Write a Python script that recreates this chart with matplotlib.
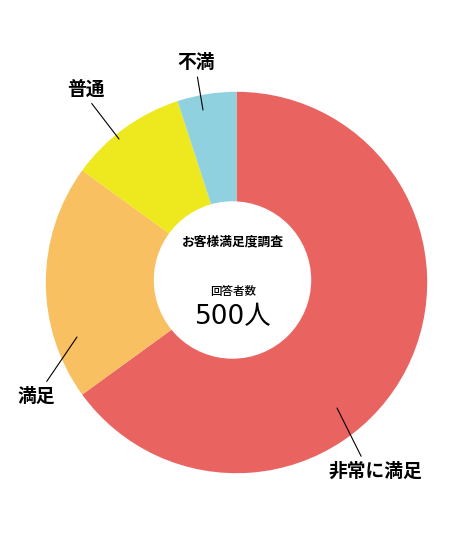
import matplotlib.pyplot as plt

plt.rcParams['font.family'] = ['Noto Sans CJK JP', 'DejaVu Sans']

# survey data
labels = ['非常に満足', '満足', '普通', '不満']
counts = [325, 100, 50, 25]
colors = ['#E96461', '#F8C060', '#EEE81E', '#8FD1DF']

title = 'お客様満足度調査'
sub_title = '回答者数'

W, H = 450, 545

def px(x, y):
    # pixel coords (y down) -> data coords (y up)
    return x, H - y

fig = plt.figure(figsize=(W / 100, H / 100), dpi=100)
ax = fig.add_axes([0, 0, 1, 1])

cx, cy = px(236.5, 282.5)
ax.pie(counts, colors=colors, startangle=90, counterclock=False,
       center=(cx, cy), radius=190.7, frame=True,
       wedgeprops=dict(linewidth=0))

# white hole
hole = plt.Circle(px(232.5, 280), 78, color='white', zorder=5)
ax.add_patch(hole)

ax.text(*px(233, 242), title, ha='center', va='center', fontsize=9.2,
        fontweight='bold', zorder=6)
ax.text(*px(233, 292), sub_title, ha='center', va='center', fontsize=8.3,
        fontweight='medium', zorder=6)
ax.text(*px(233, 317), f'{sum(counts)}人', ha='center', va='center',
        fontsize=19, family=['DejaVu Sans', 'Noto Sans CJK JP'], zorder=6)

# label text position, line anchor in wedge, where line leaves the text
label_pos = {
    '非常に満足': ((375, 471), (337, 408), (0.38, 1.0)),
    '満足': ((36.5, 396), (77, 337), (0.68, 1.0)),
    '普通': ((86, 89), (119, 139), (0.55, 0.0)),
    '不満': ((196.5, 62), (203, 110), (0.5, 0.0)),
}
for lab in labels:
    tpos, apos, rel = label_pos[lab]
    ax.annotate(lab, xy=px(*apos), xytext=px(*tpos), ha='center', va='center',
                fontsize=13.5, fontweight='bold',
                arrowprops=dict(arrowstyle='-', color='black', lw=0.8,
                                shrinkA=2, shrinkB=0, relpos=rel))

ax.set_xlim(0, W)
ax.set_ylim(0, H)
ax.set_aspect('auto')
ax.set_axis_off()

fig.savefig('out.png', dpi=100, facecolor='white')
